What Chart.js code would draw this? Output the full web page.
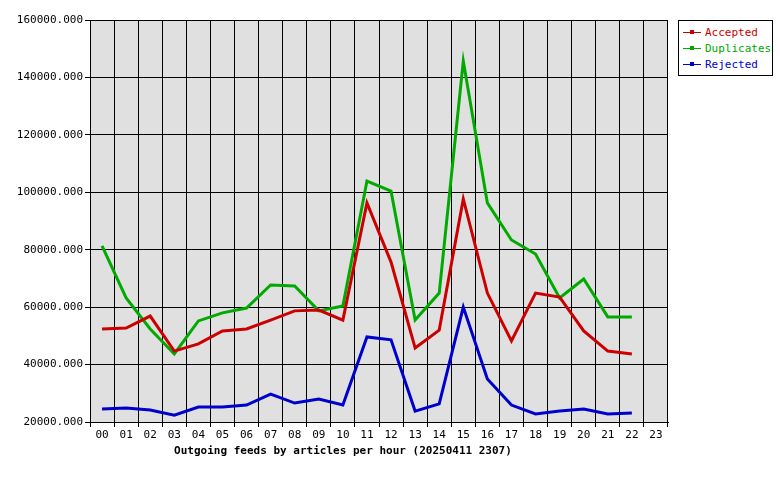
<!DOCTYPE html>
<html>
<head>
<meta charset="utf-8">
<script src="https://cdn.jsdelivr.net/npm/chart.js@4/dist/chart.umd.min.js"></script>
<style>
  body { margin: 0; background: #fff; }
  #wrap { position: relative; width: 780px; height: 480px; }
  #legend {
    position: absolute; left: 678px; top: 20px; width: 93px; height: 54px;
    border: 1px solid #000; background: #fff;
    font: 11px "DejaVu Sans Mono", monospace;
  }
  #legend div { position: relative; height: 15px; line-height: 15px; margin-top: 1px; padding-left: 26px; }
  #legend span { position: absolute; left: 4px; top: 7px; width: 18px; height: 1px; }
  #legend span::after { content: ""; position: absolute; left: 7px; top: -2px; width: 4px; height: 4px; background: inherit; }
  #title {
    position: absolute; left: 0; width: 686px; top: 444px; text-align: center;
    font: bold 11px "DejaVu Sans Mono", monospace;
  }
</style>
</head>
<body>
<div id="wrap">
  <canvas id="c" width="780" height="480"></canvas>
  <div id="legend">
    <div style="color:#cc0000;margin-top:4px"><span style="background:#cc0000"></span>Accepted</div>
    <div style="color:#00aa00"><span style="background:#00aa00"></span>Duplicates</div>
    <div style="color:#0000cc"><span style="background:#0000cc"></span>Rejected</div>
  </div>
  <div id="title">Outgoing feeds by articles per hour (20250411 2307)</div>
</div>
<script>
  // hours of the day
  const hours = ["00","01","02","03","04","05","06","07","08","09","10","11",
                 "12","13","14","15","16","17","18","19","20","21","22","23"];

  const accepted = [52400, 52700, 56900, 44700, 47200, 51700, 52400, 55500, 58700, 59000,
                    55500, 96300, 75700, 45800, 52000, 97700, 64900, 48200, 64900, 63500,
                    51700, 44700, 43700];
  const duplicates = [81300, 63200, 52400, 43700, 55200, 58000, 59700, 67700, 67400, 58700,
                      60400, 103900, 100400, 55500, 64900, 145700, 96300, 83400, 78500, 63200,
                      69800, 56600, 56600];
  const rejected = [24500, 24900, 24200, 22400, 25200, 25200, 25900, 29700, 26600, 28000,
                    25900, 49600, 48600, 23800, 26300, 60000, 35000, 25900, 22800, 23800,
                    24500, 22800, 23100];

  const tickFont = { family: "DejaVu Sans Mono", size: 11 };

  // grey plot background
  const plotBg = {
    id: "plotBg",
    beforeDraw(chart) {
      const a = chart.chartArea;
      chart.ctx.save();
      chart.ctx.fillStyle = "#e0e0e0";
      chart.ctx.fillRect(a.left, a.top, a.right - a.left, a.bottom - a.top);
      chart.ctx.restore();
    },
  };

  function line(label, data, color) {
    return { label, data, borderColor: color, borderWidth: 3, pointRadius: 0, tension: 0, fill: false };
  }

  new Chart(document.getElementById("c"), {
    type: "line",
    data: {
      labels: hours,
      datasets: [
        line("Accepted", accepted, "#cc0000"),
        line("Duplicates", duplicates, "#00aa00"),
        line("Rejected", rejected, "#0000cc"),
      ],
    },
    options: {
      responsive: false,
      animation: false,
      layout: { padding: { top: 20, right: 112, left: 0, bottom: 0 } },
      plugins: { legend: { display: false }, tooltip: { enabled: false } },
      scales: {
        x: {
          offset: true,
          grid: { offset: true, color: "#000", lineWidth: 1, drawTicks: true, tickLength: 5 },
          border: { color: "#000" },
          ticks: { color: "#000", font: tickFont, maxRotation: 0, autoSkip: false, padding: 2 },
          afterFit(s) { s.height = 58; },
        },
        y: {
          min: 20000,
          max: 160000,
          grid: { color: "#000", lineWidth: 1, tickLength: 5 },
          border: { color: "#000" },
          ticks: {
            stepSize: 20000,
            color: "#000",
            font: tickFont,
            padding: 2,
            callback: (v) => v.toFixed(3),
          },
          afterFit(s) { s.width = 90; },
        },
      },
    },
    plugins: [plotBg],
  });
</script>
</body>
</html>
